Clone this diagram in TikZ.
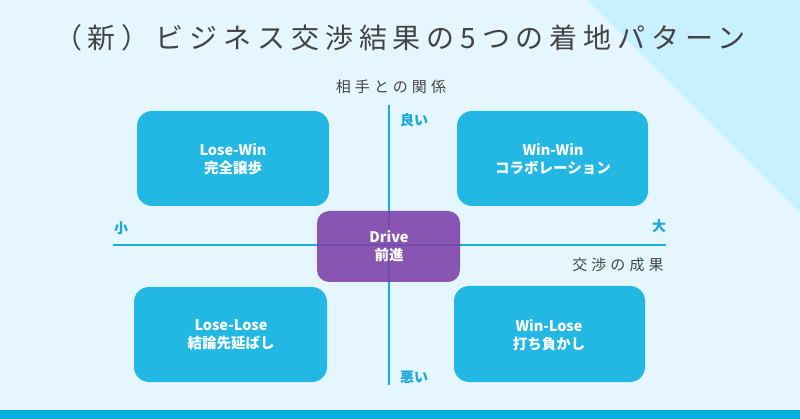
\documentclass[tikz,border=0pt]{standalone}
\usepackage{fontspec}
\setmainfont{Noto Sans CJK JP}
\newfontfamily\jpfont{Noto Sans CJK JP}
\newfontfamily\titlefont[LetterSpace=21]{Noto Sans CJK JP}
\newfontfamily\labelfont[LetterSpace=27]{Noto Sans CJK JP}
\definecolor{bgc}{HTML}{E6F6FE}
\definecolor{tric}{HTML}{C9F0FE}
\definecolor{boxc}{HTML}{22B8E3}
\definecolor{linec}{HTML}{1BAEDD}
\definecolor{purc}{HTML}{7B3FA8}
\definecolor{lblc}{HTML}{1AA8D8}
\definecolor{grayc}{HTML}{444444}
\definecolor{bandc}{HTML}{00B0E0}
\tikzset{
  quad/.style={draw=none, fill=boxc, rounded corners=15pt},
  boxtext/.style={text=white, font=\jpfont\bfseries\fontsize{14.5}{18}\selectfont, align=center},
  axislabel/.style={text=grayc, font=\labelfont\fontsize{15}{18}\selectfont, inner sep=0pt},
  endlabel/.style={text=lblc, font=\jpfont\bfseries\fontsize{14}{16}\selectfont, inner sep=0pt},
  axis/.style={draw=linec, line width=1.6pt}
}
\begin{document}
\begin{tikzpicture}[x=1pt,y=-1pt]
\useasboundingbox (0,0) rectangle (800,419);
\fill[bgc] (0,0) rectangle (800,419);
\fill[tric] (587,0) -- (800,0) -- (800,213) -- cycle;
\fill[bandc] (0,410) rectangle (800,419);

\node[text=grayc, font=\titlefont\fontsize{28}{32}\selectfont, inner sep=0pt] (title) at (400,38) {（新）ビジネス交渉結果の5つの着地パターン};

% quadrant boxes
\path[quad] (137,111) rectangle (329,206);
\coordinate (lwc) at (233,159);
\path[quad] (457,111) rectangle (648,206);
\coordinate (wwc) at (553,159);
\path[quad] (134,287) rectangle (327,382);
\coordinate (llc) at (231,335);
\path[quad] (454,286) rectangle (645,382);
\coordinate (wlc) at (549,335);

% axes
\coordinate (vt) at (389,105);
\coordinate (vb) at (389,385);
\coordinate (hl) at (113,245);
\coordinate (hr) at (666,245);
\draw[axis] (vt) -- (vb);
\draw[axis] (hl) -- (hr);

% drive box
\path[fill=purc, fill opacity=0.88, rounded corners=12pt] (317,211) rectangle (460,282);
\coordinate (drc) at (389,246.5);

\node[boxtext] (lw) at (lwc) {Lose-Win\\完全譲歩};
\node[boxtext] (ww) at (wwc) {Win-Win\\コラボレーション};
\node[boxtext] (ll) at (llc) {Lose-Lose\\結論先延ばし};
\node[boxtext] (wl) at (wlc) {Win-Lose\\打ち負かし};
\node[boxtext] (dr) at (drc) {Drive\\前進};

\node[axislabel] (rel) at (391,87) {相手との関係};
\node[axislabel] (res) at (618,265) {交渉の成果};
\node[endlabel] (good) at (414,120) {良い};
\node[endlabel] (bad) at (414,377) {悪い};
\node[endlabel] (small) at (121,228) {小};
\node[endlabel] (big) at (659,226) {大};
\end{tikzpicture}
\end{document}
